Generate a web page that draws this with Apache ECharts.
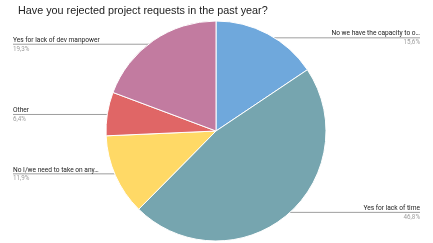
<!DOCTYPE html>
<html>
<head>
<meta charset="utf-8">
<script src="https://cdn.jsdelivr.net/npm/echarts@6/dist/echarts.min.js"></script>
<style>
html,body{margin:0;padding:0;background:#fff;}
#chart{width:433px;height:243px;}
</style>
</head>
<body>
<div id="chart"></div>
<script>
var titleText = 'Have you rejected project requests in the past year?';
var categories = ['No we have the capacity to o\u2026', 'Yes for lack of time', 'No I/we need to take on any\u2026', 'Other', 'Yes for lack of dev manpower'];
var values = [15.6, 46.8, 11.9, 6.4, 19.3];
var colors = ['#6fa8dc', '#76a5af', '#ffd966', '#e06666', '#c27ba0'];

var W = 433, H = 243;
var CX = 216, CY = 131, R = 110;
var EDGE = 13;

var total = values.reduce(function(a, b){ return a + b; }, 0);
var mids = [];
var cum = 0;
values.forEach(function(v){
  mids.push((cum + v / 2) / total * Math.PI * 2);
  cum += v;
});

var chart = echarts.init(document.getElementById('chart'), null, {renderer: 'canvas'});
chart.setOption({
  animation: false,
  backgroundColor: '#ffffff',
  title: {
    text: titleText,
    left: 13,
    top: 1,
    textStyle: {fontFamily: 'Liberation Sans, Arial, sans-serif', fontSize: 10.8, fontWeight: 'normal', color: '#222222'}
  },
  series: [{
    type: 'pie',
    center: [CX, CY],
    radius: R,
    startAngle: 90,
    clockwise: true,
    data: categories.map(function(c, i){
      return {name: c, value: values[i], itemStyle: {color: colors[i]}};
    }),
    itemStyle: {borderColor: '#ffffff', borderWidth: 1},
    label: {
      show: true,
      position: 'outside',
      formatter: function(p){
        return '{n|' + p.name + '}\n{p|' + p.value.toFixed(1).replace('.', ',') + '%}';
      },
      rich: {
        n: {fontFamily: 'Roboto, sans-serif', fontSize: 6.6, color: '#222222', lineHeight: 10},
        p: {fontFamily: 'Roboto, sans-serif', fontSize: 6.3, color: '#9e9e9e', lineHeight: 8}
      }
    },
    labelLine: {show: true, length: 0, length2: 0, lineStyle: {color: '#9e9e9e', width: 1}},
    labelLayout: function(params){
      var i = params.dataIndex;
      var a = mids[i];
      var px = CX + R * 0.96 * Math.sin(a);
      var py = CY - R * 0.96 * Math.cos(a);
      var isLeft = Math.sin(a) < 0;
      var ex = isLeft ? EDGE : W - EDGE;
      return {
        x: ex,
        y: py,
        align: isLeft ? 'left' : 'right',
        verticalAlign: 'middle',
        labelLinePoints: [[px, py], [px, py], [ex, py]]
      };
    }
  }]
});
</script>
</body>
</html>
